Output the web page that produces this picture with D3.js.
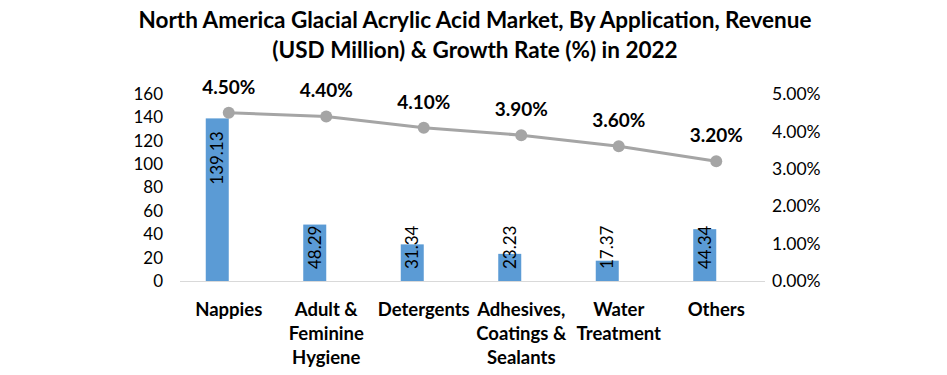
<!DOCTYPE html>
<html>
<head>
<meta charset="utf-8">
<script src="https://cdn.jsdelivr.net/npm/d3@7/dist/d3.min.js"></script>
<style>
  body { margin: 0; background: #fff; }
  svg { font-family: Lato, "Open Sans", sans-serif; }
</style>
</head>
<body>
<div id="chart"></div>
<script>
var categories = ['Nappies', 'Adult & Feminine Hygiene', 'Detergents', 'Adhesives, Coatings & Sealants', 'Water Treatment', 'Others'];
var categoryLines = [['Nappies'], ['Adult &', 'Feminine', 'Hygiene'], ['Detergents'], ['Adhesives,', 'Coatings &', 'Sealants'], ['Water', 'Treatment'], ['Others']];
var revenue = [139.13, 48.29, 31.34, 23.23, 17.37, 44.34];
var growth = [4.5, 4.4, 4.1, 3.9, 3.6, 3.2];
var leftTicks = [0, 20, 40, 60, 80, 100, 120, 140, 160];
var rightTicks = [0, 1, 2, 3, 4, 5];
var titleLines = ['North America Glacial Acrylic Acid Market, By Application, Revenue', '(USD Million) & Growth Rate (%) in 2022'];

var width = 947, height = 375;
var plot = { left: 180, right: 765, top: 94, bottom: 281 };

var svg = d3.select('#chart').append('svg')
    .attr('width', width)
    .attr('height', height);

// title
svg.append('g').selectAll('text')
    .data(titleLines)
    .enter()
    .append('text')
    .attr('x', 475)
    .attr('y', function (d, i) { return 28 + i * 30; })
    .attr('text-anchor', 'middle')
    .attr('font-size', 22.5)
    .attr('font-weight', 'bold')
    .attr('fill', '#000')
    .text(function (d) { return d; });

var x = d3.scaleBand()
    .domain(categories)
    .range([plot.left, plot.right]);

var yLeft = d3.scaleLinear().domain([0, 160]).range([plot.bottom, plot.top]);
var yRight = d3.scaleLinear().domain([0, 5]).range([plot.bottom, plot.top]);

var barWidth = 23;
var cx = function (d) { return x(d) + x.bandwidth() / 2; };

// left axis
var leftAxis = svg.append('g')
    .attr('transform', 'translate(' + 163 + ',0)')
    .call(d3.axisLeft(yLeft).tickValues(leftTicks).tickSize(0).tickPadding(0));
leftAxis.select('.domain').remove();
leftAxis.selectAll('text')
    .attr('font-size', 17)
    .attr('font-family', 'Lato, sans-serif')
    .attr('fill', '#000');

// right axis
var rightAxis = svg.append('g')
    .attr('transform', 'translate(' + 772 + ',0)')
    .call(d3.axisRight(yRight).tickValues(rightTicks).tickSize(0).tickPadding(0)
        .tickFormat(function (d) { return d.toFixed(2) + '%'; }));
rightAxis.select('.domain').remove();
rightAxis.selectAll('text')
    .attr('font-size', 17.5)
    .attr('font-family', 'Lato, sans-serif')
    .attr('fill', '#000');

// bars
svg.append('g').selectAll('rect')
    .data(revenue)
    .enter()
    .append('rect')
    .attr('x', function (d, i) { return cx(categories[i]) - barWidth; })
    .attr('y', function (d) { return yLeft(d); })
    .attr('width', barWidth)
    .attr('height', function (d) { return plot.bottom - yLeft(d); })
    .attr('fill', '#5B9BD5');

// baseline
svg.append('line')
    .attr('x1', plot.left)
    .attr('x2', plot.right)
    .attr('y1', plot.bottom + 0.5)
    .attr('y2', plot.bottom + 0.5)
    .attr('stroke', '#D9D9D9')
    .attr('stroke-width', 1);

// bar labels (rotated)
svg.append('g').selectAll('text')
    .data(revenue)
    .enter()
    .append('text')
    .attr('transform', function (d, i) {
        var bx = cx(categories[i]) - barWidth / 2 + 6;
        var tall = plot.bottom - yLeft(d) > 100;
        var by = tall ? yLeft(d) + 13 : plot.bottom - 12;
        return 'translate(' + bx + ',' + by + ') rotate(-90)';
    })
    .attr('text-anchor', function (d) { return plot.bottom - yLeft(d) > 100 ? 'end' : 'start'; })
    .attr('font-size', 17)
    .attr('fill', '#000')
    .text(function (d) { return d.toFixed(2); });

// growth line
var line = d3.line()
    .x(function (d, i) { return cx(categories[i]); })
    .y(function (d) { return yRight(d); });

svg.append('path')
    .datum(growth)
    .attr('d', line)
    .attr('fill', 'none')
    .attr('stroke', '#A5A5A5')
    .attr('stroke-width', 3);

svg.append('g').selectAll('circle')
    .data(growth)
    .enter()
    .append('circle')
    .attr('cx', function (d, i) { return cx(categories[i]); })
    .attr('cy', function (d) { return yRight(d); })
    .attr('r', 6)
    .attr('fill', '#A5A5A5');

svg.append('g').selectAll('text')
    .data(growth)
    .enter()
    .append('text')
    .attr('x', function (d, i) { return cx(categories[i]); })
    .attr('y', function (d) { return yRight(d) - 19; })
    .attr('text-anchor', 'middle')
    .attr('font-size', 19)
    .attr('font-weight', 'bold')
    .attr('fill', '#000')
    .text(function (d) { return d.toFixed(2) + '%'; });

// category labels
var catGroup = svg.append('g').selectAll('text')
    .data(categories)
    .enter()
    .append('text')
    .attr('text-anchor', 'middle')
    .attr('font-size', 18.5)
    .attr('font-weight', 'bold')
    .attr('fill', '#000');

catGroup.selectAll('tspan')
    .data(function (d, i) { return categoryLines[i].map(function (t) { return { t: t, c: d }; }); })
    .enter()
    .append('tspan')
    .attr('x', function (d) { return cx(d.c); })
    .attr('y', function (d, j) { return 316 + j * 24; })
    .text(function (d) { return d.t; });
</script>
</body>
</html>
